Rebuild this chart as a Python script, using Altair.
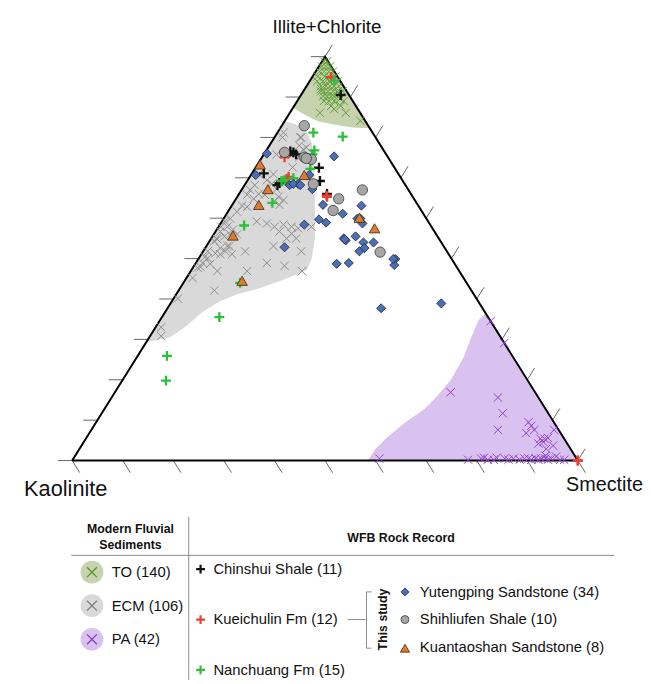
import altair as alt
import pandas as pd

W, H = 643, 676
FONT = "Liberation Sans, Arial, sans-serif"

TICKS = [0, 10, 20, 30, 40, 50, 60, 70, 80, 90, 100]

# ---------------- region outlines (Illite+Chlorite %, Smectite %) ----------------
TO_POLY_I = [100, 82.4, 82.6, 83.3, 84.1, 85.8, 87.0, 87.5, 100]
TO_POLY_S = [0, 17.6, 14.0, 10.1, 6.6, 3.0, 0.8, 0, 0]

ECM_POLY_I = [83.9, 83.1, 81.4, 78.7, 73.8, 67.7, 61.6, 55.0, 49.9, 47.2, 45.2, 42.8,
              41.3, 39.6, 36.9, 33.3, 30.6, 29.6, 29.6, 83.9]
ECM_POLY_S = [0, 2.8, 5.6, 7.9, 10.8, 14.0, 17.1, 20.4, 22.3, 22.7, 19.8, 15.7,
              12.0, 9.5, 7.3, 5.8, 4.0, 0.6, 0, 0]

PA_POLY_I = [36.4, 34.7, 30.8, 25.7, 20.0, 15.9, 12.7, 9.3, 5.9, 2.7, 0, 0, 36.4]
PA_POLY_S = [63.6, 63.1, 63.7, 64.7, 65.0, 64.3, 63.4, 61.2, 59.6, 58.6, 58.6, 100, 63.6]

# ---------------- modern fluvial sediments ----------------
TO_I = [98.8, 98.8, 97.6, 97.6, 97.6, 96.3, 96.3, 96.3, 96.3, 95.1, 95.1, 95.1,
        93.9, 93.9, 93.9, 93.9, 92.7, 92.7, 92.7, 92.7, 92.7,
        91.4, 91.4, 91.4, 91.4, 91.4, 91.4, 90.2, 90.2, 90.2, 90.2,
        89.0, 89.0, 89.0, 89.0, 87.8, 87.8, 87.0, 86.1, 86.1, 84.1,
        92.0, 90.8, 89.5, 94.5]
TO_S = [0.4, 1.0, 0.6, 1.4, 2.2, 0.8, 1.7, 2.6, 3.4, 1.0, 2.4, 4.5,
        1.5, 2.6, 3.85, 5.55, 2.85, 3.85, 4.65, 5.45, 6.35,
        3.5, 4.1, 4.9, 5.9, 6.8, 7.8, 4.5, 5.3, 6.1, 6.7,
        5.3, 6.3, 7.3, 9.2, 7.3, 9.2, 8.3, 5.95, 11.05, 14.95,
        3.2, 7.3, 8.2, 3.3]

ECM_I = [81.2, 75.8, 80.0, 78.0, 77.0, 75.6, 70.9, 68.5, 68.2, 67.0, 66.0, 65.8,
         65.8, 67.2, 65.3, 64.5, 64.1, 63.3, 63.1, 62.8, 64.8, 61.6, 59.9, 59.2,
         57.9, 57.9, 56.7, 59.2, 58.7, 57.9, 58.4, 57.9, 57.5, 57.9, 56.7, 55.0,
         56.2, 55.0, 55.0, 54.3, 55.5, 53.1, 52.6, 51.3, 51.1, 51.8, 53.1, 51.8,
         50.1, 48.9, 48.7, 47.7, 46.9, 45.2, 48.9, 48.2, 46.9, 42.1, 57.2, 56.0,
         56.0, 54.8, 53.1, 51.8, 51.8, 51.1, 50.4, 47.9, 46.9, 40.1, 33.0, 30.8,
         80.0, 80.0, 75.1, 77.5, 72.6, 69.4, 69.4, 70.9]
ECM_S = [1.2, 2.5, 5.3, 5.9, 7.2, 5.6, 4.35, 5.25, 2.0, 1.7, 3.9, 1.7,
         5.2, 6.8, 8.15, 9.55, 7.95, 9.35, 2.05, 3.2, 3.5, 1.8, 1.3, 0.6,
         0.5, 1.75, 0.95, 6.9, 9.15, 11.05, 12.6, 14.45, 15.95, 18.35, 12.65, 14.9,
         15.3, 16.8, 1.0, 1.0, 2.35, 4.15, 3.0, 2.65, 6.05, 8.3, 13.25, 19.4,
         1.75, 1.35, 2.95, 0.95, 5.25, 1.2, 14.05, 17.9, 22.0, 7.05, 3.2, 4.6,
         3.25, 1.3, 4.55, 0.9, 4.4, 3.75, 1.0, 1.45, 11.15, 0.85, 1.1, 2.2,
         1.6, 5.1, 7.35, 7.55, 7.3, 7.7, 3.8, 1.45]

PA_I = [34.5, 29.1, 16.9, 15.6, 11.7, 7.6, 9.5, 8.6, 7.6, 6.8, 7.6, 5.4, 5.4, 5.6,
        4.2, 4.6, 2.9, 3.7, 0.5, 0.2, 0.5, 0.7, 0.2, 0.7, 0.2, 0.5, 0.5, 0.2, 0.5,
        0.2, 0.5, 0.5, 0.2, 0.5, 1.0, 0.2, 0.2, 1.2, 0.2, 0.2, 0.5, 0.5]
PA_S = [65.5, 70.9, 66.4, 76.4, 79.3, 80.4, 85.5, 86.5, 87.6, 86.4, 91.5, 89.9, 90.7, 91.3,
        90.1, 90.9, 92.3, 93.25, 60.5, 78.2, 80.6, 81.1, 83.3, 83.6, 86.2, 89.2, 90.0, 90.7, 91.4,
        92.1, 92.5, 93.3, 94.0, 94.5, 95.2, 96.4, 97.2, 93.0, 82.1, 88.4, 87.0, 85.3]

# ---------------- WFB rock record ----------------
CHIN_I = [90.5, 76.3, 75.8, 71.1, 68.7, 72.5, 69.2, 66.0, 76.5, 68.2]
CHIN_S = [7.85, 5.6, 6.4, 2.35, 6.65, 12.55, 14.4, 17.4, 4.9, 6.5]

KUEI_I = [94.9, 75.1, 69.7, 70.2, 65.3, 65.6, 0, 0]
KUEI_S = [3.75, 4.45, 7.55, 7.7, 17.75, 17.5, 100, 100]

NAN_I = [94.1, 81.2, 80.2, 75.8, 72.2, 69.2, 69.9, 63.8, 58.2, 44.0, 35.5, 25.9, 19.8, 76.8, 69.4]
NAN_S = [4.8, 7.1, 13.4, 9.6, 11.0, 6.8, 8.8, 7.7, 4.9, 11.2, 11.35, 5.8, 8.65, 9.5, 7.3]

YUT_I = [76.0, 70.7, 75.3, 70.7, 68.2, 68.5, 67.2, 63.3, 61.1, 63.1, 59.7, 58.9, 58.4, 59.9,
         58.7, 52.8, 55.0, 54.5, 55.5, 54.0, 54.0, 52.6, 51.8, 49.9, 48.4, 48.7, 48.9, 37.7,
         38.9, 68.5, 54.8, 68.2, 59.9, 49.9]
YUT_S = [0.5, 0.95, 14.15, 11.55, 8.9, 10.45, 13.9, 17.95, 22.95, 25.65, 18.95, 20.75, 16.7, 26.45,
         28.05, 15.6, 26.2, 26.85, 28.3, 30.6, 32.6, 31.5, 30.9, 38.95, 39.5, 27.95, 30.25, 42.25,
         53.55, 9.5, 26.5, 11.0, 27.05, 38.55]

SHI_I = [82.9, 76.3, 75.1, 74.6, 68.5, 64.8, 61.9, 67.0, 51.6, 74.8]
SHI_S = [4.45, 3.85, 8.35, 10.0, 13.45, 20.3, 20.65, 23.9, 35.1, 8.9]

KUAN_I = [73.3, 70.7, 67.2, 63.3, 55.7, 44.5, 60.1, 57.5]
KUAN_S = [0.5, 10.55, 5.1, 5.25, 3.95, 11.35, 26.75, 31.05]

# ---------------- legend text ----------------
MODERN_LABELS = ["TO (140)", "ECM (106)", "PA (42)"]
MODERN_FILL = ["#c6d3ae", "#d9d9d9", "#d9c2ef"]
MODERN_MARK = ["#4f9a2c", "#7d7d7d", "#8a35c8"]
ROCK_LABELS = ["Chinshui Shale (11)", "Kueichulin Fm (12)", "Nanchuang Fm (15)"]
ROCK_COLORS = ["#111111", "#e8412c", "#2cbf3a"]
STUDY_LABELS = ["Yutengping Sandstone (34)", "Shihliufen Shale (10)", "Kuantaoshan Sandstone (8)"]


def tern(I, S):
    df = pd.DataFrame({"illite": I, "smectite": S})
    df["kaolinite"] = 100 - df["illite"] - df["smectite"]
    df["cx"] = df["smectite"] + df["illite"] / 2
    df["cy"] = df["illite"]
    df["order"] = range(len(df))
    return df


XS = alt.Scale(domain=[-12.695, 112.89], nice=False, zero=False)
YS = alt.Scale(domain=[-54.28, 111.0], nice=False, zero=False)


def xy():
    return dict(x=alt.X("cx:Q", scale=XS, axis=None), y=alt.Y("cy:Q", scale=YS, axis=None))


def pix(**kw):
    enc = {}
    for ch, f in kw.items():
        cls = {"x": alt.X, "y": alt.Y, "x2": alt.X2, "y2": alt.Y2}[ch]
        if ch in ("x", "y"):
            enc[ch] = cls(f + ":Q", scale=None, axis=None)
        else:
            enc[ch] = cls(f + ":Q")
    return enc


X_PATH = "M-1,-1L1,1M-1,1L1,-1"
P_PATH = "M-1,0L1,0M0,-1L0,1"

layers = []

# shaded fields
for I, S, col in [(TO_POLY_I, TO_POLY_S, "#c6d3ae"),
                  (ECM_POLY_I, ECM_POLY_S, "#d9d9d9"),
                  (PA_POLY_I, PA_POLY_S, "#d9c2ef")]:
    layers.append(alt.Chart(tern(I, S)).mark_line(fill=col, stroke=col, strokeWidth=1)
                  .encode(order="order:Q", **xy()))

# ticks
rows = []
for t in TICKS:
    rows.append({"cx": t / 2, "cy": t, "cx2": t / 2 - 2.8, "cy2": t})
    rows.append({"cx": 100 - t / 2, "cy": t, "cx2": 100 - t / 2 + 1.45, "cy2": t + 2.9})
    rows.append({"cx": t, "cy": 0, "cx2": t + 1.5, "cy2": -3.0})
layers.append(alt.Chart(pd.DataFrame(rows)).mark_rule(color="#555555", strokeWidth=0.9)
              .encode(x2="cx2:Q", y2="cy2:Q", **xy()))

# triangle frame
layers.append(alt.Chart(tern([0, 0, 100, 0], [0, 100, 0, 0])).mark_line(color="black", strokeWidth=2)
              .encode(order="order:Q", **xy()))


def scatter(I, S, **mk):
    return alt.Chart(tern(I, S)).mark_point(opacity=1, **mk).encode(**xy())


layers.append(scatter(TO_I, TO_S, shape=X_PATH, size=70, color="#5f9e38", strokeWidth=1))
layers.append(scatter(ECM_I, ECM_S, shape=X_PATH, size=70, color="#8c8c8c", strokeWidth=1))
layers.append(scatter(PA_I, PA_S, shape=X_PATH, size=70, color="#8f42cc", strokeWidth=1))
layers.append(scatter(CHIN_I, CHIN_S, shape=P_PATH, size=100, color=ROCK_COLORS[0], strokeWidth=2.4))
layers.append(scatter(KUEI_I, KUEI_S, shape=P_PATH, size=100, color=ROCK_COLORS[1], strokeWidth=2.4))
layers.append(scatter(NAN_I, NAN_S, shape=P_PATH, size=100, color=ROCK_COLORS[2], strokeWidth=2.4))
layers.append(scatter(YUT_I, YUT_S, shape="diamond", size=85, filled=True, fill="#4a6fb5",
                      stroke="#1c2340", strokeWidth=0.8))
layers.append(scatter(SHI_I, SHI_S, shape="circle", size=110, filled=True, fill="#a6a6a6",
                      stroke="#3a3a3a", strokeWidth=0.8))
layers.append(scatter(KUAN_I, KUAN_S, shape="triangle-up", size=115, filled=True, fill="#e07b2e",
                      stroke="#3a2a1a", strokeWidth=0.8))

# vertex labels
lab = pd.DataFrame({"px": [323, 58.5, 604], "py": [21, 490, 485], "fs": [19, 22, 20],
                    "t": ["Illite+Chlorite", "Kaolinite", "Smectite"]})
layers.append(alt.Chart(lab).mark_text(font=FONT, color="#111", align="center",
                                       baseline="alphabetic")
              .encode(text="t:N", size=alt.Size("fs:Q", scale=None), **pix(x="px", y="py")))

# ---------------- legend ----------------
lines = pd.DataFrame({"x": [64, 183, 344, 363, 363, 363], "y": [550, 511, 615, 587, 587, 644],
                      "x2": [614, 183, 362, 363, 368, 368], "y2": [550, 676, 615, 644, 587, 644]})
layers.append(alt.Chart(lines).mark_rule(color="#8a8a8a", strokeWidth=1)
              .encode(**pix(x="x", y="y", x2="x2", y2="y2")))

hdr = pd.DataFrame({"px": [124, 124, 398], "py": [523, 540, 532],
                    "t": ["Modern Fluvial", "Sediments", "WFB Rock Record"]})
layers.append(alt.Chart(hdr).mark_text(font=FONT, fontSize=12.5, fontWeight="bold", color="#111",
                                       align="center", baseline="middle")
              .encode(text="t:N", **pix(x="px", y="py")))

study = pd.DataFrame({"px": [380], "py": [615], "t": ["This study"]})
layers.append(alt.Chart(study).mark_text(font=FONT, fontSize=12.5, fontWeight="bold", color="#111",
                                         align="center", baseline="middle", angle=270)
              .encode(text="t:N", **pix(x="px", y="py")))

mod = pd.DataFrame({"px": [85, 85, 85], "py": [567, 601, 635], "fill": MODERN_FILL,
                    "mk": MODERN_MARK, "t": MODERN_LABELS})
layers.append(alt.Chart(mod).mark_point(shape="circle", size=530, filled=True, opacity=1)
              .encode(fill=alt.Fill("fill:N", scale=None), **pix(x="px", y="py")))
layers.append(alt.Chart(mod).mark_point(shape=X_PATH, size=100, strokeWidth=1.3, opacity=1)
              .encode(stroke=alt.Stroke("mk:N", scale=None), **pix(x="px", y="py")))

rock = pd.DataFrame({"px": [195, 195, 195], "py": [564, 615, 666], "c": ROCK_COLORS})
layers.append(alt.Chart(rock).mark_point(shape=P_PATH, size=80, strokeWidth=2.2, opacity=1)
              .encode(stroke=alt.Stroke("c:N", scale=None), **pix(x="px", y="py")))

layers.append(alt.Chart(pd.DataFrame({"px": [402], "py": [587]})).mark_point(
    shape="diamond", size=65, filled=True, fill="#4a6fb5", stroke="#1c2340", strokeWidth=0.8, opacity=1)
    .encode(**pix(x="px", y="py")))
layers.append(alt.Chart(pd.DataFrame({"px": [402], "py": [615]})).mark_point(
    shape="circle", size=65, filled=True, fill="#a6a6a6", stroke="#3a3a3a", strokeWidth=0.8, opacity=1)
    .encode(**pix(x="px", y="py")))
layers.append(alt.Chart(pd.DataFrame({"px": [402], "py": [644]})).mark_point(
    shape="triangle-up", size=85, filled=True, fill="#e07b2e", stroke="#3a2a1a", strokeWidth=0.8, opacity=1)
    .encode(**pix(x="px", y="py")))

txt = pd.DataFrame({
    "px": [105, 105, 105, 208, 208, 208, 417, 417, 417],
    "py": [567, 601, 635, 564, 615, 666, 587, 615, 643],
    "t": MODERN_LABELS + ROCK_LABELS + STUDY_LABELS,
})
layers.append(alt.Chart(txt).mark_text(font=FONT, fontSize=15, color="#111", align="left",
                                       baseline="middle").encode(text="t:N", **pix(x="px", y="py")))

chart = alt.layer(*layers).properties(
    width=W, height=H, padding=0, autosize=alt.AutoSizeParams(type="none"),
    background="white",
).configure_view(stroke=None)

chart.save("out.html", embed_options={"renderer": "svg", "actions": False})
